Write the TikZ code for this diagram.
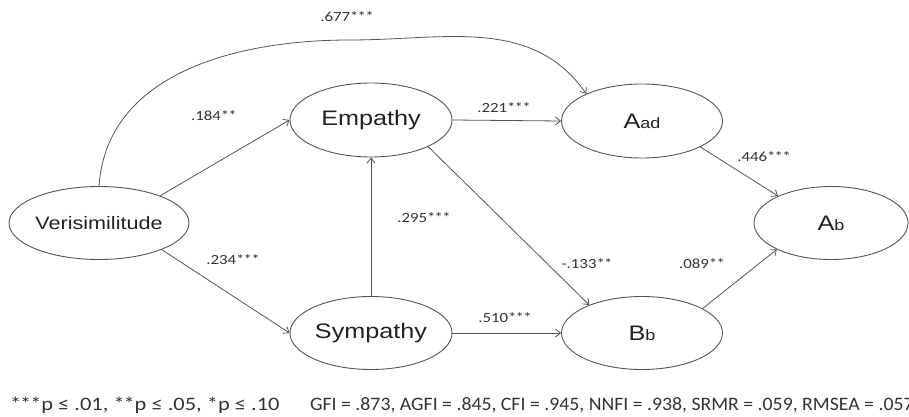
\documentclass[tikz,border=0pt]{standalone}
\usepackage{fontspec}
\setmainfont{Liberation Sans}[FakeStretch=1.2]
\newfontfamily\labfont{Carlito}[FakeStretch=1.2]
\newfontfamily\sigfont{Carlito}[FakeStretch=1.18]
\newfontfamily\fitfont{Carlito}[FakeStretch=1.04]
\usetikzlibrary{arrows.meta,shapes.geometric}

\definecolor{edgegray}{HTML}{555555}
\definecolor{inkgray}{HTML}{222222}
\definecolor{labgray}{HTML}{333333}

% smaller letters set after a capital, e.g. A_ad
\newcommand\smalltail[1]{{\fontsize{15}{15}\selectfont #1}}
% significance stars, set a little closer together
\newcommand\twostar{*\kern-0.06em*}
\newcommand\threestar{*\kern-0.06em*\kern-0.06em*}

\tikzset{
  construct/.style={ellipse, draw=edgegray, line width=0.9pt, inner sep=0pt,
    minimum width=162pt, minimum height=74pt, text=inkgray,
    font=\fontsize{21}{21}\selectfont},
  path/.style={draw=edgegray, line width=0.8pt,
    -{Straight Barb[length=5pt,width=8pt]}},
  coef/.style={text=labgray, inner sep=0pt, font=\labfont\fontsize{14}{14}\selectfont},
  note/.style={text=labgray, inner sep=0pt, anchor=west}
}

\begin{document}
\begin{tikzpicture}[x=1pt,y=-1pt]
\useasboundingbox (0,0) rectangle (909,417);

% constructs
\node[construct, minimum height=73pt, font=\fontsize{18}{18}\selectfont] (ver) at (99,223) {Verisimilitude};
\node[construct] (emp) at (371,120) {Empathy};
\node[construct, minimum height=73pt] (sym) at (371,333) {Sympathy};
\node[construct, minimum width=161pt] (aad) at (642,121) {A\smalltail{ad}};
\node[construct, minimum width=161pt, minimum height=73pt] (bb) at (642,333) {B\smalltail{b}};
\node[construct, minimum width=154pt, minimum height=73pt] (ab) at (831,223) {A\smalltail{b}};

% structural paths
\coordinate (arcTop) at (350,40);
\draw[path] (ver.north) to[out=86,in=180] (arcTop) to[out=0,in=125] (aad.154);
\draw[path] (ver.24) -- (emp.west);
\draw[path] (ver.-23) -- (sym.west);
\draw[path] (sym.north) -- (emp.south);
\draw[path] (emp.east) -- (aad.west);
\draw[path] (emp.-25) -- (bb.152);
\draw[path] (sym.east) -- (bb.west);
\draw[path] (aad.-24) -- (ab.153);
\draw[path] (bb.22) -- (ab.206);

% coefficients
\node[coef] (c677) at (347,17) {.677\threestar};
\node[coef] (c184) at (214,116) {.184\twostar};
\node[coef] (c234) at (233,260) {.234\threestar};
\node[coef] (c295) at (424,218) {.295\threestar};
\node[coef] (c221) at (504,108) {.221\threestar};
\node[coef] (c446) at (764,157) {.446\threestar};
\node[coef] (c133) at (587,264) {-.133\twostar};
\node[coef] (c089) at (702,264) {.089\twostar};
\node[coef] (c510) at (505,318) {.510\threestar};

% notes
\node[note, font=\sigfont\fontsize{19}{19}\selectfont] (sig) at (10,405) {*\kern-0.06em*\kern-0.06em*p ≤ .01, *\kern-0.06em*p ≤ .05, *p ≤ .10};
\node[note, font=\fitfont\fontsize{19}{19}\selectfont] (fit) at (310,405) {GFI = .873, AGFI = .845, CFI = .945, NNFI = .938, SRMR = .059, RMSEA = .057};
\end{tikzpicture}
\end{document}
